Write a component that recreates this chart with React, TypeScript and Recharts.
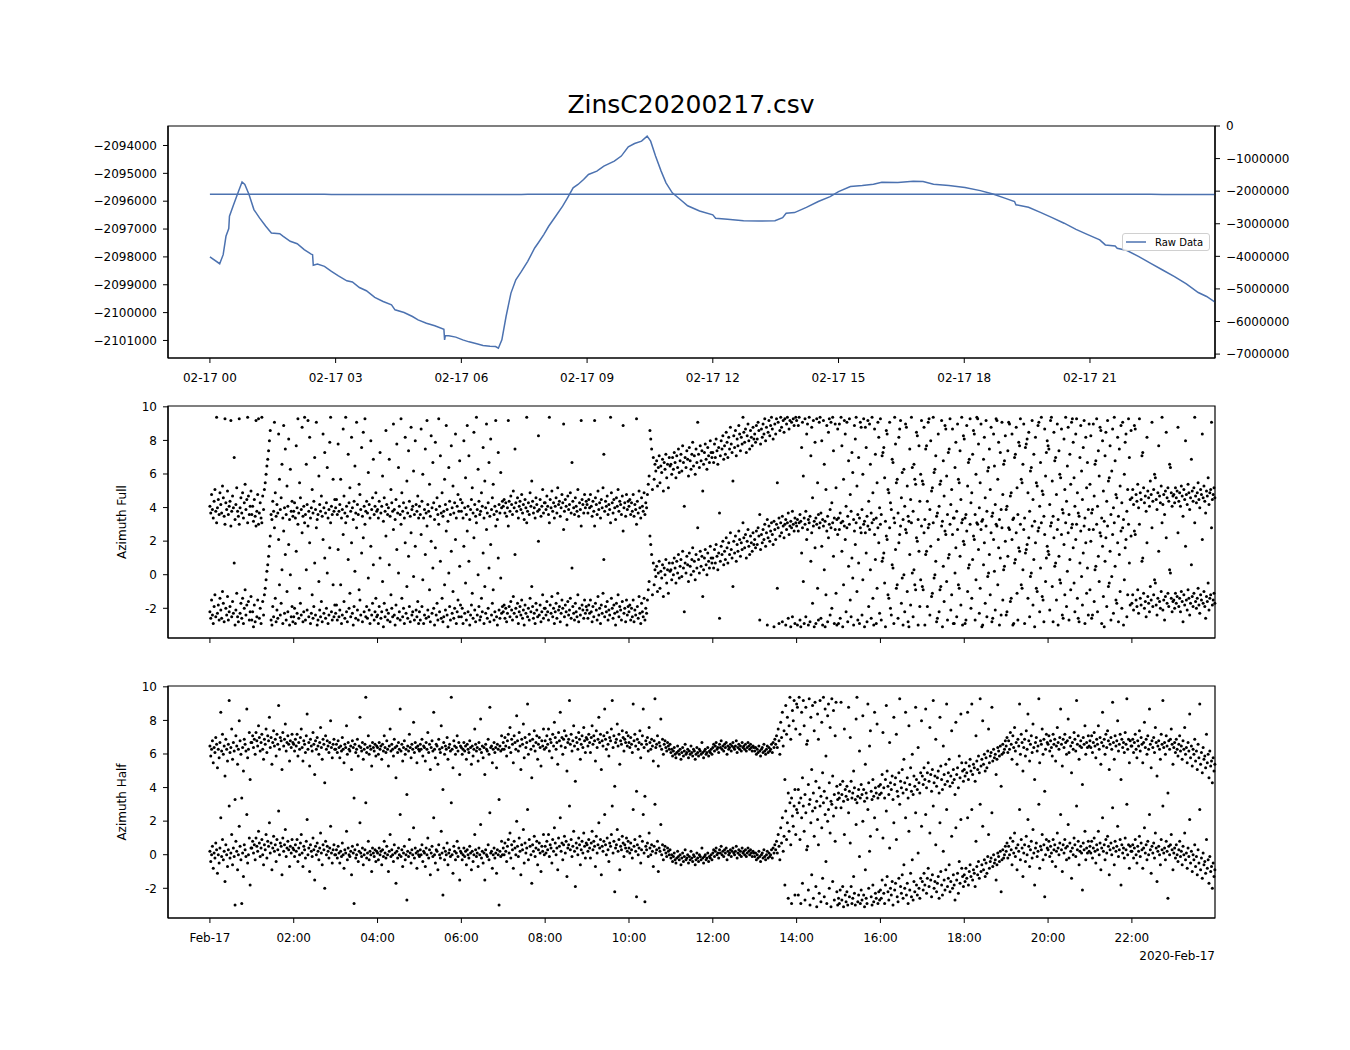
import React from 'react';
import { ComposedChart, ScatterChart, Line, Scatter, XAxis, YAxis, Legend, ReferenceArea } from 'recharts';

const FONT = "'DejaVu Sans', sans-serif";
const TITLE = 'ZinsC20200217.csv';
const LINE_COLOR = '#4c72b0';

// ---- top panel: raw data (minutes after 2020-02-17 00:00) ----
const rawMinutes = [0,14,19,23,27,28,34,41,46,50,56,63,71,80,88,100,105,115,125,135,145,147,148,154,164,174,184,196,204,214,224,236,248,260,265,278,290,298,310,322,335,336,337,342,352,362,371,382,391,401,409,413,418,424,431,438,446,455,465,470,478,485,495,505,512,520,527,535,542,554,564,579,589,599,608,618,626,631,638,646,653,662,673,684,701,720,724,741,764,786,809,820,825,837,854,871,888,900,917,934,950,962,985,1007,1021,1036,1058,1081,1103,1121,1138,1152,1154,1172,1189,1205,1223,1240,1256,1274,1282,1296,1299,1313,1330,1347,1364,1381,1398,1415,1427,1439];
const rawValues = [-2098000,-2098245,-2097920,-2097260,-2096980,-2096540,-2096120,-2095640,-2095310,-2095400,-2095760,-2096300,-2096600,-2096900,-2097140,-2097165,-2097260,-2097440,-2097525,-2097740,-2097900,-2097920,-2098300,-2098260,-2098340,-2098520,-2098680,-2098860,-2098900,-2099100,-2099215,-2099455,-2099600,-2099720,-2099900,-2099995,-2100140,-2100260,-2100380,-2100475,-2100600,-2100980,-2100835,-2100835,-2100880,-2100980,-2101050,-2101120,-2101180,-2101205,-2101220,-2101280,-2100980,-2100140,-2099300,-2098820,-2098520,-2098160,-2097680,-2097500,-2097200,-2096900,-2096540,-2096180,-2095880,-2095520,-2095400,-2095220,-2095040,-2094920,-2094740,-2094560,-2094380,-2094050,-2093930,-2093845,-2093665,-2093845,-2094380,-2094920,-2095340,-2095700,-2095930,-2096165,-2096350,-2096490,-2096610,-2096650,-2096700,-2096710,-2096700,-2096590,-2096430,-2096410,-2096220,-2096010,-2095835,-2095655,-2095475,-2095440,-2095390,-2095320,-2095330,-2095280,-2095295,-2095390,-2095440,-2095510,-2095620,-2095740,-2095890,-2096010,-2096130,-2096220,-2096400,-2096580,-2096790,-2097010,-2097190,-2097390,-2097570,-2097610,-2097690,-2097770,-2097990,-2098230,-2098470,-2098710,-2098970,-2099280,-2099420,-2099620];

const topTickMinutes = [0,180,360,540,720,900,1080,1260];
const topTickLabels = ['02-17 00','02-17 03','02-17 06','02-17 09','02-17 12','02-17 15','02-17 18','02-17 21'];
const leftTicks = [-2094000,-2095000,-2096000,-2097000,-2098000,-2099000,-2100000,-2101000];
const rightTicks = [0,-1000000,-2000000,-3000000,-4000000,-5000000,-6000000,-7000000];
const bottomTickMinutes = [0,120,240,360,480,600,720,840,960,1080,1200,1320];
const bottomTickLabels = ['Feb-17','02:00','04:00','06:00','08:00','10:00','12:00','14:00','16:00','18:00','20:00','22:00'];
const azTicks = [-2,0,2,4,6,8,10];

// ---- azimuth samples, tenths of a radian in [-pi, pi], one row per hour ----
const azimuthFullTenths: number[][] = [
  [-22,-26,-15,-24,-29,-19,-12,-25,31,-23,-18,-27,-14,-21,-26,-10,-17,-28,30,-20,-24,-13,-27,-22,-19,29,-25,-16,-23,7,-30,-21,-11,-25,-28,30,-23,-17,-26,-14,-29,-20,-9,-24,-18,31,-16,-27,-22,-13],
  [-27,-22,-31,-18,-28,29,-25,-15,30,-26,-20,-29,31,-16,-24,-12,-8,-3,2,6,11,17,23,-27,-30,-19,-25,28,-14,-28,-21,-26,21,-6,-24,-17,3,-29,26,-23,12,-27,-10,-22,18,-30,0,-25,-19,-28],
  [-25,-20,-29,14,-23,30,-26,-8,-17,-24,25,-28,-22,31,-27,3,-21,29,-25,19,-29,-23,-12,-26,-19,7,-24,28,-30,-27,-4,-21,-25,-16,-28,21,-23,10,-26,-20,1,-29,-24,16,31,-22,-27,-6,-25,-18],
  [-23,-18,-27,15,-25,-21,-6,-29,-24,24,-16,-26,31,-22,-28,9,-20,-11,-25,19,-23,-30,-19,2,-26,28,-21,-27,-9,-15,-24,13,-28,22,-22,30,-25,-19,-26,-2,-21,-29,17,-24,-17,6,-27,-22,-14,-25],
  [-24,-29,-19,10,-26,-22,-4,-31,-17,-25,23,-21,-27,-23,6,-28,-12,-20,-25,27,-24,-30,-18,15,-26,1,-22,-27,30,-14,-25,-20,-29,19,-23,-7,-26,11,-19,-28,25,-24,-22,-1,-27,17,-21,-25,-16,-29],
  [-22,-27,24,-19,-3,-29,-24,12,-26,29,-21,-25,-9,-28,20,-23,4,-20,-30,16,-24,-17,-27,30,-22,8,-26,-14,-28,-25,-6,-21,26,-24,-31,1,-19,-27,14,-23,-10,-26,-20,21,-29,-22,-15,-25,5,-18],
  [-25,-20,-29,17,-23,-5,-27,26,-22,8,-30,-24,-18,-11,-26,22,-21,-28,31,-24,0,-19,-27,-25,-14,-22,13,-29,-7,-23,27,-26,-20,4,-28,18,-24,-17,-9,-27,-22,29,-25,-30,10,-21,-26,-2,-23,-19],
  [-22,-18,-26,-20,-28,-23,29,-19,-25,-16,-21,-27,-13,-23,12,-20,-25,-17,-29,-22,-19,-24,-15,-26,-21,-30,-18,-23,31,-25,-20,-27,-14,-22,-7,-19,-26,-23,-29,-17,-21,-25,20,-24,-18,-28,-22,-12,-26,-20],
  [-20,-24,-16,-22,-27,31,-18,-23,-13,-25,-20,-29,-22,-17,-26,-11,-21,-19,-28,-23,-15,-20,27,-25,-18,-22,-30,-16,-24,-21,-14,-26,4,-19,-23,-27,-17,-22,-25,-12,-28,-20,-24,29,-18,-21,-26,-15,-23,-19],
  [-21,-26,-18,-23,-15,-22,-28,-19,-25,29,-17,-21,-27,-13,-24,-20,-29,-18,-23,-11,9,-25,-19,-22,-16,-27,-21,-24,31,-14,-20,-26,-18,-23,-30,-17,-22,-12,-25,-19,-21,-27,-16,26,-23,-20,-28,-15,-24,-19],
  [-22,-18,-27,-20,-25,-15,-28,-21,-24,30,-19,-26,-13,-23,-29,-17,-22,-25,-14,-27,-20,-23,-15,-9,-4,23,18,12,-12,7,-6,3,-1,5,-10,1,8,-8,2,-2,6,-13,4,0,9,-5,3,-11,7,2],
  [3,-3,7,0,10,4,-5,8,1,12,-2,5,9,-1,14,4,-22,7,1,11,6,-4,13,5,0,9,16,2,8,-3,12,4,28,9,1,14,5,11,-13,3,10,15,6,0,13,8,4,17,10,7],
  [10,4,15,7,18,11,3,13,-26,8,17,12,20,6,14,9,22,16,7,19,12,25,15,10,-7,20,13,23,8,18,14,26,21,11,19,15,31,22,16,24,10,20,27,17,12,23,19,14,25,18],
  [21,16,26,18,28,23,-27,15,24,19,27,21,30,17,25,-30,22,29,20,26,31,24,18,-31,27,21,30,-8,28,-29,23,31,25,-28,29,22,30,-30,27,31,-26,24,29,-31,28,-25,30,26,-29,31],
  [29,-30,26,31,-27,-31,13,28,-4,-29,30,-25,21,27,-30,31,-28,8,25,-17,29,-31,16,-29,30,-8,-27,28,31,-26,17,-30,29,3,-31,-12,26,-28,22,30,-24,28,-20,31,11,-29,27,-11,-30,24],
  [-29,27,-26,31,14,-31,-6,29,21,-22,28,-28,5,30,-15,-25,10,-2,-30,26,18,31,-10,-27,7,-29,28,25,-24,-3,30,-31,25,13,-28,29,-19,27,3,-26,31,-14,-30,24,9,-29,-8,28,19,-23],
  [30,-27,8,10,13,-5,-31,23,21,-12,-14,28,-20,-24,6,4,-29,31,15,-8,-6,-26,19,24,29,-17,-2,-30,0,-22,27,25,-10,-28,-31,12,-18,31,1,-25,3,-6,-9,22,20,-30,14,-19,-3,29],
  [-7,-9,25,-30,12,14,-19,28,30,-24,17,-13,-11,31,-2,0,8,-28,-26,21,-22,-9,-7,29,-31,5,-16,26,24,-4,-27,10,12,30,-21,-12,24,-29,-29,1,16,-25,27,-6,-8,11,-18,31,-30,20],
  [18,-29,-27,26,-10,4,6,30,-20,-14,9,23,21,-27,-3,31,30,15,-23,-8,27,-31,-30,6,19,-17,29,-25,-1,1,12,-12,25,-28,-26,21,2,-21,30,29,-6,16,-30,10,-24,28,-15,3,5,20],
  [-24,-22,11,28,27,-16,-14,21,-30,-29,7,9,25,-11,-27,16,14,30,-6,-8,3,27,-29,13,15,18,-14,22,-25,-1,1,29,-18,9,-31,19,-8,-10,26,28,-22,4,31,-13,-15,-28,24,-4,10,17],
  [14,12,-21,29,31,-7,-28,22,5,7,-15,27,-30,11,-3,-5,24,-24,-26,18,-12,31,-19,2,25,-27,9,-9,28,30,16,-5,-22,21,30,-14,-26,-28,7,26,-1,-18,13,29,-29,19,-11,4,-24,27],
  [-9,20,-26,-24,27,-16,3,5,30,-22,11,-4,25,23,-29,17,-13,-31,8,22,-19,29,-7,-5,14,-27,-1,24,-23,31,5,-15,-17,19,-28,12,-10,26,-20,28,-30,-3,16,21,-25,-12,30,7,-18,23],
  [-17,-12,-21,26,24,-15,-19,-9,-23,30,-14,-18,8,10,-11,-20,-16,-25,19,-13,-17,-22,-7,-15,28,-19,-12,-3,-5,-18,-24,-14,14,-16,-20,-10,31,-21,-15,-27,-13,22,-17,-11,-19,3,1,-14,-22,-16],
  [-15,-20,-11,-17,-13,25,-19,-14,-22,-10,-16,-28,-12,-18,17,-15,-21,-9,-14,-24,-17,6,-13,-19,-11,31,-16,-20,-14,-8,-18,-23,-12,-15,21,-17,-10,-19,-26,-13,-16,-5,-21,-14,-12,28,-18,-15,-11,-17],
];

const azimuthHalfTenths: number[][] = [
  [2,-4,0,5,-8,1,-2,7,3,-11,0,-5,4,22,-1,9,-3,2,-16,6,0,-7,3,29,-2,1,12,-6,4,-1,-30,8,2,-9,0,17,5,-3,-29,1,-13,6,3,-1,24,-5,0,10,-18,4],
  [4,8,1,6,-3,10,5,2,14,7,-1,4,9,0,-6,6,3,12,-2,8,5,19,1,7,-9,4,11,2,6,-4,9,3,26,0,7,5,-12,10,2,6,15,-1,4,8,3,-7,5,1,9,4],
  [3,-1,6,2,9,-4,4,0,7,12,1,-7,5,3,-2,8,21,0,4,-10,6,2,-1,10,3,-15,5,0,7,2,-3,4,13,1,-6,6,3,-20,8,0,5,2,-2,4,17,1,-5,3,6,0],
  [0,3,-2,5,1,-5,2,-1,7,0,-8,3,1,14,-3,4,0,-1,2,-12,5,1,-29,3,-2,0,6,-4,2,19,1,-1,4,-6,0,3,31,-2,1,8,-3,2,0,-10,4,1,-1,3,-4,2],
  [1,-3,4,0,2,-6,3,-1,8,1,-2,5,0,-10,2,12,-1,3,0,-4,6,1,-17,2,-2,4,0,24,-1,3,-7,1,5,-3,0,-27,2,-1,9,1,-5,3,0,16,-2,4,1,-8,2,0],
  [-1,3,0,6,-4,2,1,-7,4,0,10,-2,3,-12,1,5,-1,22,0,-5,3,2,-9,6,0,-2,14,1,-24,4,-3,2,0,7,-6,1,3,-1,31,0,-11,5,2,-3,1,8,-1,4,-15,2],
  [1,-3,0,4,-1,2,-6,3,0,-2,5,1,-9,2,-4,0,12,3,-1,1,-7,4,0,18,-2,2,-5,1,-15,3,0,-1,6,-3,25,1,2,-8,0,4,-2,1,-11,3,0,-30,2,-1,8,0],
  [4,0,7,2,-4,5,9,1,13,-2,6,3,-8,8,4,0,20,5,-1,10,2,-12,6,3,15,-5,7,1,4,27,-3,9,5,0,-17,6,2,11,-1,4,8,-6,3,7,1,-10,5,2,12,0],
  [5,1,8,3,12,-1,6,4,-5,9,2,16,7,0,4,-9,10,5,22,2,7,-3,6,11,1,8,-13,4,6,29,3,9,-1,5,14,2,-19,7,4,0,10,6,-6,3,8,1,13,5,-2,7],
  [6,2,9,4,-2,7,14,3,8,5,-7,11,1,6,19,4,9,-12,5,2,8,24,6,0,10,3,-4,7,5,12,29,1,8,-22,4,6,15,2,9,-9,5,3,11,7,-1,6,4,10,2,8],
  [4,1,7,3,-2,27,5,9,2,-25,6,0,4,11,-5,3,8,24,1,-28,5,3,7,-1,13,4,0,6,2,-7,5,30,1,3,8,-10,4,2,18,0,6,-3,3,5,1,-1,4,2,0,3],
  [-2,0,-4,-1,1,-3,-5,-2,2,-1,-3,0,-6,-2,1,-4,-1,3,-3,-2,0,-5,-1,-3,2,-2,-4,0,-1,-6,-3,1,-2,-4,0,-1,-3,4,-2,-5,-1,0,-3,-2,1,-4,-1,-2,0,-3],
  [1,3,-1,2,4,0,1,-2,3,1,5,0,2,-1,3,1,4,-3,2,0,1,3,-1,2,4,1,0,2,5,-2,1,3,0,2,-1,4,1,2,0,3,-1,1,4,2,0,3,1,-1,2,1],
  [-1,1,-3,0,-2,2,-1,-4,0,1,-2,3,-1,-3,0,2,-2,1,-1,0,3,-2,4,1,6,3,8,1,12,5,-3,16,7,22,2,11,-18,26,9,19,-26,14,31,6,-29,23,17,29,-24,12],
  [27,25,-24,31,9,-29,22,-17,29,14,-27,25,3,5,-21,30,-30,19,-12,26,-26,11,28,-19,-31,21,6,-23,29,-28,16,-14,31,-25,24,-4,-29,20,27,-20,13,-31,30,-16,23,-27,8,28,-22,-30],
  [-26,-29,-21,28,-27,-19,-31,12,-24,-28,-22,-30,25,-25,7,-19,-29,-26,-13,-23,-30,18,31,-28,-24,-1,-29,-21,-27,20,-24,-31,-9,-26,-29,27,-20,2,11,-25,-30,-18,-28,22,-23,-26,15,-29,-22,-27],
  [-21,-26,-15,10,-23,-29,-18,26,-13,-22,-27,4,-20,-24,-16,-30,19,-21,-17,9,-25,-28,-14,30,-19,-23,-12,-26,-6,-20,22,-24,-17,-29,14,-21,-11,-25,-3,-27,-16,-22,25,-18,-24,1,-20,-26,-14,17],
  [-16,-21,-11,-18,24,-23,-14,-8,-19,13,-15,-25,-12,29,-20,-16,6,-22,-17,-13,-26,19,-10,-18,-24,2,-15,-21,-9,27,-19,-14,-6,-22,-16,11,-20,-12,-18,-27,16,-15,-11,-23,-4,-17,21,-8,-13,-19],
  [-12,-16,-8,-14,22,-18,-10,-6,-13,27,-15,-9,-11,-19,8,-7,-12,-4,-14,30,-10,-6,17,-9,-3,-13,-5,-11,-1,12,-8,-4,-2,25,-7,0,-5,-3,-15,-6,1,-1,-4,2,-22,-3,3,-2,0,5],
  [2,7,-2,5,0,10,3,-6,8,1,13,-1,4,-9,6,2,27,-3,9,4,-13,1,6,-4,11,0,21,5,-7,3,8,-2,15,1,-18,4,7,-1,2,30,-8,5,3,12,-3,6,-25,0,9,4],
  [3,8,-1,5,1,-4,9,3,6,-7,2,13,4,0,7,24,3,-10,6,1,9,4,-3,5,18,-2,7,2,-14,4,0,10,6,-1,29,3,8,-6,2,5,1,-21,7,3,14,-3,4,1,8,2],
  [5,1,8,-2,4,10,2,-5,6,3,14,0,7,-9,4,22,2,6,-3,9,1,11,5,-12,3,7,0,28,4,-6,8,2,5,17,-1,3,9,-18,6,1,4,-2,10,3,30,0,6,-8,5,2],
  [2,6,-2,4,9,0,-5,5,2,11,-1,7,3,-8,4,16,1,6,-3,8,0,24,3,-11,5,1,7,-2,13,4,-16,2,5,0,-6,9,3,29,1,4,-3,8,2,-26,5,0,6,12,3,-9],
  [1,4,-2,6,0,-4,3,8,-1,2,-6,5,0,13,-3,1,-8,4,-1,21,-5,2,-10,0,-3,6,-7,-1,-12,3,-5,27,-9,-2,-14,1,-6,-4,-11,9,-8,-3,-17,-1,-10,-7,-20,-5,-13,-9],
];

const TWO_PI = 2 * Math.PI;
type Pt = { t: number; y: number };
function buildPoints(rows: number[][]) {
  const lower: Pt[] = [];
  const upper: Pt[] = [];
  rows.forEach((row, h) => {
    row.forEach((v, k) => {
      const t = h * 60 + (k * 60) / row.length;
      const y = v / 10;
      lower.push({ t, y });
      upper.push({ t, y: y + TWO_PI });
    });
  });
  return { lower, upper };
}

const rawData = rawMinutes.map((t, i) => ({ t, v: rawValues[i] }));
const fullPts = buildPoints(azimuthFullTenths);
const halfPts = buildPoints(azimuthHalfTenths);

const X_DOMAIN: [number, number] = [-60, 1439];
const AZ_DOMAIN: [number, number] = [-3.77, 10.05];
const LEFT_DOMAIN: [number, number] = [-2101630, -2093300];
const RIGHT_DOMAIN: [number, number] = [-7120000, 0];
const tickStyle = { fontSize: 12, fill: '#000', fontFamily: FONT };
const axisLineStyle = { stroke: '#000', strokeWidth: 1.2 };
const tickLineStyle = { stroke: '#000', strokeWidth: 1 };
const fmtMinus = (v: number) => (v < 0 ? '\u2212' + Math.abs(v) : String(v));

const Dot = (p: any) => <circle cx={p.cx} cy={p.cy} r={1.5} fill="#000" />;

const YLabel = ({ viewBox, value }: any) => {
  const cx = 122;
  const cy = viewBox ? viewBox.y + viewBox.height / 2 : 142;
  return (
    <text x={cx} y={cy} transform={`rotate(-90 ${cx} ${cy})`} textAnchor="middle" dominantBaseline="central"
      fontSize={12} fontFamily={FONT} fill="#000">{value}</text>
  );
};

const OffsetLabel = ({ viewBox, value }: any) => {
  const x = viewBox ? viewBox.x + viewBox.width : 1215;
  const y = viewBox ? viewBox.y + 38 : 296;
  return (
    <text x={x} y={y} textAnchor="end" dominantBaseline="central" fontSize={12} fontFamily={FONT} fill="#000">{value}</text>
  );
};

const LegendBox = (props: any) => {
  const items = (props.payload || []).filter((p: any) => p.type !== 'none');
  return (
    <div style={{
      boxSizing: 'border-box', width: 88, height: 18, border: '1px solid #d0d0d0', borderRadius: 3,
      background: 'rgba(255,255,255,0.8)', fontFamily: FONT, fontSize: 10, color: '#000',
      display: 'flex', alignItems: 'center',
    }}>
      {items.map((p: any) => (
        <div key={p.value} style={{ display: 'flex', alignItems: 'center' }}>
          <svg width={32} height={10} style={{ display: 'block' }}>
            <line x1={3} y1={5} x2={23} y2={5} stroke={p.color || LINE_COLOR} strokeWidth={1.5} />
          </svg>
          <span style={{ whiteSpace: 'nowrap' }}>{p.value}</span>
        </div>
      ))}
    </div>
  );
};

function AzimuthPanel({ pts, label, showLabels, height }: { pts: { lower: Pt[]; upper: Pt[] }; label: string; showLabels: boolean; height: number }) {
  const xAxisHeight = height - 26 - 232;
  return (
    <ScatterChart width={1350} height={height} margin={{ top: 26, right: 135, bottom: 0, left: 0 }}>
      <XAxis dataKey="t" type="number" domain={X_DOMAIN} ticks={bottomTickMinutes}
        tickFormatter={(v: number) => (showLabels ? bottomTickLabels[bottomTickMinutes.indexOf(v)] ?? '' : '')}
        height={xAxisHeight} tickSize={5} tickMargin={10} tick={tickStyle} axisLine={axisLineStyle} tickLine={tickLineStyle}
        interval={0} label={showLabels ? <OffsetLabel value="2020-Feb-17" /> : undefined} />
      <YAxis dataKey="y" type="number" domain={AZ_DOMAIN} ticks={azTicks} width={168} tickSize={5} tickMargin={6}
        tick={tickStyle} axisLine={axisLineStyle} tickLine={tickLineStyle} interval={0}
        label={<YLabel value={label} />} />
      <ReferenceArea x1={X_DOMAIN[0]} x2={X_DOMAIN[1]} y1={AZ_DOMAIN[0]} y2={AZ_DOMAIN[1]} fill="none" fillOpacity={0}
        stroke="#000" strokeWidth={1.2} ifOverflow="visible" />
      <Scatter data={pts.lower} fill="#000" shape={Dot} isAnimationActive={false} />
      <Scatter data={pts.upper} fill="#000" shape={Dot} isAnimationActive={false} />
    </ScatterChart>
  );
}

export default function App() {
  return (
    <div style={{ position: 'absolute', left: 0, top: 0, width: 1350, height: 1050, background: '#fff', fontFamily: FONT }}>
      <div style={{ position: 'absolute', left: 441, top: 90, width: 500, textAlign: 'center', fontSize: 25, lineHeight: '30px', color: '#000' }}>
        {TITLE}
      </div>
      <div style={{ position: 'absolute', left: 0, top: 0 }}>
        <ComposedChart width={1350} height={400} data={rawData} margin={{ top: 126, right: 0, bottom: 0, left: 0 }}>
          <XAxis dataKey="t" type="number" domain={X_DOMAIN} ticks={topTickMinutes}
            tickFormatter={(v: number) => topTickLabels[topTickMinutes.indexOf(v)] ?? ''}
            height={42} tickSize={5} tickMargin={10} tick={tickStyle} axisLine={axisLineStyle} tickLine={tickLineStyle} interval={0} />
          <YAxis yAxisId="left" type="number" domain={LEFT_DOMAIN} ticks={leftTicks} width={168} tickSize={5} tickMargin={6}
            tickFormatter={fmtMinus} tick={tickStyle} axisLine={axisLineStyle} tickLine={tickLineStyle} interval={0} />
          <YAxis yAxisId="right" orientation="right" type="number" domain={RIGHT_DOMAIN} ticks={rightTicks} width={135} tickSize={5} tickMargin={6}
            tickFormatter={fmtMinus} tick={tickStyle} axisLine={axisLineStyle} tickLine={tickLineStyle} interval={0} />
          <ReferenceArea yAxisId="left" x1={X_DOMAIN[0]} x2={X_DOMAIN[1]} y1={LEFT_DOMAIN[0]} y2={LEFT_DOMAIN[1]} fill="none" fillOpacity={0}
            stroke="#000" strokeWidth={1.2} ifOverflow="visible" />
          <Line yAxisId="left" dataKey="v" stroke={LINE_COLOR} strokeWidth={1.5} dot={false} isAnimationActive={false} legendType="none" />
          <Line yAxisId="right" dataKey="v" name="Raw Data" stroke={LINE_COLOR} strokeWidth={1.5} dot={false} isAnimationActive={false} />
          <Legend content={<LegendBox />} layout="vertical" align="center" verticalAlign="middle"
            wrapperStyle={{ left: 1122, top: 233, width: 88, height: 18 }} />
        </ComposedChart>
      </div>
      <div style={{ position: 'absolute', left: 0, top: 380 }}>
        <AzimuthPanel pts={fullPts} label="Azimuth Full" showLabels={false} height={280} />
      </div>
      <div style={{ position: 'absolute', left: 0, top: 660 }}>
        <AzimuthPanel pts={halfPts} label="Azimuth Half" showLabels={true} height={320} />
      </div>
    </div>
  );
}
